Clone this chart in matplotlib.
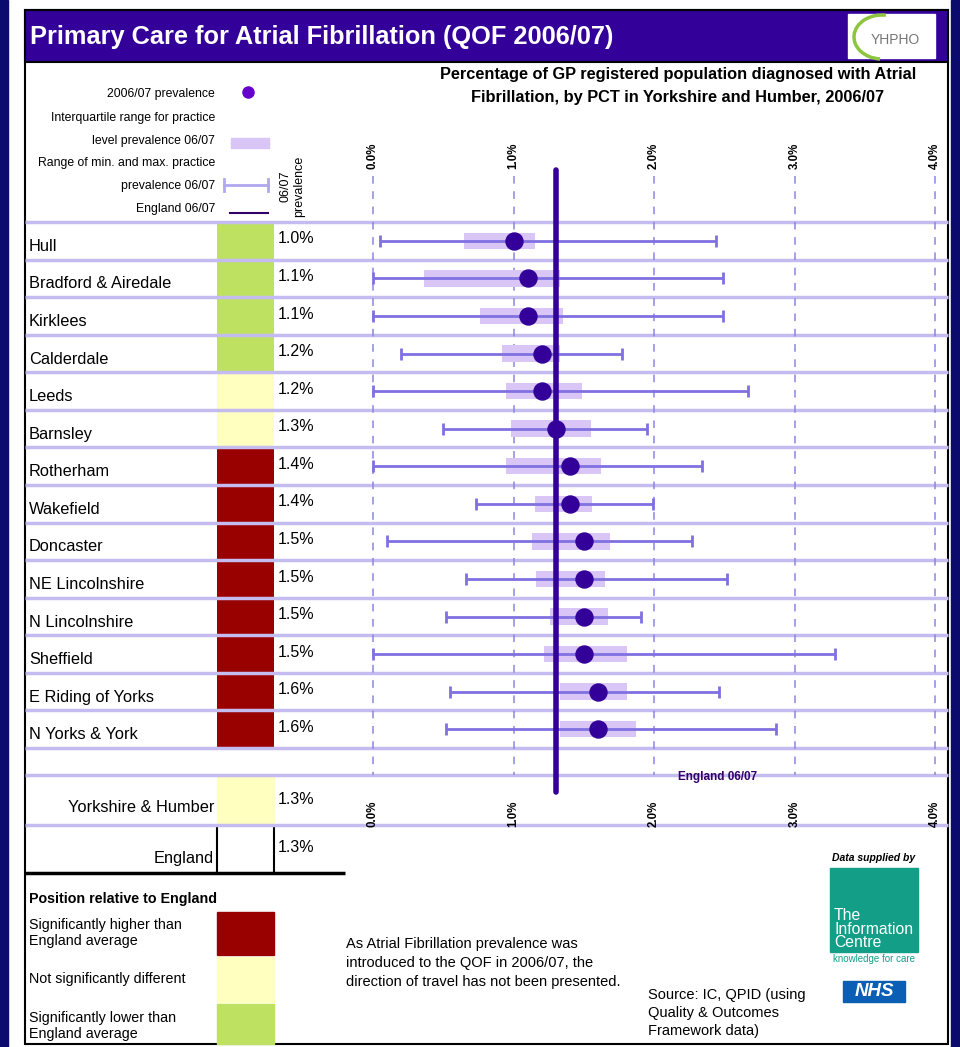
import numpy as np
import matplotlib
matplotlib.use('Agg')
import matplotlib.pyplot as plt
from matplotlib.patches import Rectangle, Arc

plt.rcParams['font.family'] = ['Liberation Sans', 'DejaVu Sans']

# PCT data, 2006/07 AF prevalence (%)
pcts = ['Hull', 'Bradford & Airedale', 'Kirklees', 'Calderdale', 'Leeds', 'Barnsley',
        'Rotherham', 'Wakefield', 'Doncaster', 'NE Lincolnshire', 'N Lincolnshire',
        'Sheffield', 'E Riding of Yorks', 'N Yorks & York']
prevalence = [1.0, 1.1, 1.1, 1.2, 1.2, 1.3, 1.4, 1.4, 1.5, 1.5, 1.5, 1.5, 1.6, 1.6]
iqr_low = [0.65, 0.36, 0.76, 0.92, 0.95, 0.98, 0.95, 1.15, 1.13, 1.16, 1.26, 1.22, 1.33, 1.33]
iqr_high = [1.15, 1.33, 1.35, 1.33, 1.49, 1.55, 1.62, 1.56, 1.69, 1.65, 1.67, 1.81, 1.81, 1.87]
range_min = [0.05, 0.0, 0.0, 0.2, 0.0, 0.5, 0.0, 0.73, 0.1, 0.66, 0.52, 0.0, 0.55, 0.52]
range_max = [2.44, 2.49, 2.49, 1.77, 2.67, 1.95, 2.34, 1.99, 2.27, 2.52, 1.91, 3.29, 2.46, 2.87]
# 'low' = significantly lower, 'same' = not significantly different, 'high' = significantly higher
significance = ['low', 'low', 'low', 'low', 'same', 'same', 'high', 'high', 'high',
                'high', 'high', 'high', 'high', 'high']
england = 1.3
region_name = 'Yorkshire & Humber'
region_value = 1.3
region_sig = 'same'
ticks = [0, 1, 2, 3, 4]
tick_labels = ['0.0%', '1.0%', '2.0%', '3.0%', '4.0%']

sig_colors = {'high': '#990000', 'same': '#ffffc0', 'low': '#bfe162'}
navy = '#0b0b6e'
purple = '#330099'
lav_line = '#c4bcf0'
range_col = '#8070e0'
iqr_col = '#dac6f6'
grid_col = '#8a86e0'

W, H = 960, 1047
fig = plt.figure(figsize=(W / 100, H / 100), dpi=100)

# background in pixel coordinates
bg = fig.add_axes([0, 0, 1, 1], zorder=0)
bg.set_xlim(0, W)
bg.set_ylim(H, 0)
bg.axis('off')
bg.add_patch(Rectangle((0, 0), 8, H, color=navy))
bg.add_patch(Rectangle((951, 0), 9, H, color=navy))
bg.add_patch(Rectangle((25, 10), 923, 1034, facecolor='white', edgecolor='black', lw=1.5))
bg.add_patch(Rectangle((25, 10), 923, 52, facecolor=purple, edgecolor='black', lw=1.5))
bg.text(30, 37, 'Primary Care for Atrial Fibrillation (QOF 2006/07)', color='white',
        fontsize=18.3, fontweight='bold', va='center', ha='left')

# YHPHO logo
bg.add_patch(Rectangle((848, 14), 87, 44, color='white'))
bg.add_patch(Arc((882, 37), 56, 44, theta1=95, theta2=280, color='#8cc63f', lw=2.5))
bg.text(895, 40, 'YHPHO', color='#777777', fontsize=10, ha='center', va='center')

# chart title
bg.text(678, 86, 'Percentage of GP registered population diagnosed with Atrial\n'
        'Fibrillation, by PCT in Yorkshire and Humber, 2006/07',
        fontsize=11.8, fontweight='bold', ha='center', va='center', linespacing=1.6)

# legend top-left
leg_fs = 8.8
bg.text(215, 94, '2006/07 prevalence', fontsize=leg_fs, ha='right', va='center')
bg.plot([248], [92], 'o', color='#6600cc', ms=8)
bg.text(215, 118, 'Interquartile range for practice', fontsize=leg_fs, ha='right', va='center')
bg.text(215, 141, 'level prevalence 06/07', fontsize=leg_fs, ha='right', va='center')
bg.add_patch(Rectangle((231, 138), 38, 10, color=iqr_col))
bg.text(215, 163, 'Range of min. and max. practice', fontsize=leg_fs, ha='right', va='center')
bg.text(215, 186, 'prevalence 06/07', fontsize=leg_fs, ha='right', va='center')
bg.plot([224, 268], [185, 185], color='#b0a8f0', lw=2)
bg.plot([224, 224], [179, 191], color='#b0a8f0', lw=2)
bg.plot([268, 268], [179, 191], color='#b0a8f0', lw=2)
bg.text(215, 209, 'England 06/07', fontsize=leg_fs, ha='right', va='center')
bg.plot([230, 268], [213, 213], color='#330066', lw=1.5)
bg.text(292, 217, '06/07\nprevalence', fontsize=9, rotation=90, ha='center', va='bottom')

# regional / national rows below the PCTs
bg.hlines([775, 825], 25, 948, color=lav_line, lw=2.5, zorder=3)
bg.add_patch(Rectangle((217, 777), 57, 46, color=sig_colors[region_sig], zorder=2))
bg.text(214, 808, region_name, fontsize=11.8, ha='right', va='center')
bg.text(278, 800, f'{region_value:.1f}%', fontsize=11.5, ha='left', va='center')
bg.text(214, 858, 'England', fontsize=11.8, ha='right', va='center')
bg.text(278, 848, f'{england:.1f}%', fontsize=11.5, ha='left', va='center')
bg.vlines([217, 274], 825, 873, color='black', lw=1.5)
bg.hlines(873, 25, 345, color='black', lw=2.5)

# bottom legend
bg.text(29, 899, 'Position relative to England', fontsize=10.3, fontweight='bold', va='center')
bg.add_patch(Rectangle((217, 912), 57, 43, color=sig_colors['high']))
bg.add_patch(Rectangle((217, 957), 57, 45, color=sig_colors['same']))
bg.add_patch(Rectangle((217, 1004), 57, 40, color=sig_colors['low']))
bg.text(29, 933, 'Significantly higher than\nEngland average', fontsize=10.3, va='center', linespacing=1.2)
bg.text(29, 979, 'Not significantly different', fontsize=10.3, va='center')
bg.text(29, 1026, 'Significantly lower than\nEngland average', fontsize=10.3, va='center', linespacing=1.2)

bg.text(346, 963, 'As Atrial Fibrillation prevalence was\nintroduced to the QOF in 2006/07, the\n'
        'direction of travel has not been presented.', fontsize=10.5, va='center', linespacing=1.45)
bg.text(648, 1013, 'Source: IC, QPID (using\nQuality & Outcomes\nFramework data)',
        fontsize=10.5, va='center', linespacing=1.4)

# data supplier logos
bg.text(874, 858, 'Data supplied by', fontsize=7.5, fontstyle='italic', fontweight='bold',
        ha='center', va='center')
bg.add_patch(Rectangle((830, 868), 88, 84, color='#139e87'))
bg.text(834, 929, 'The\nInformation\nCentre', color='white', fontsize=11.3, va='center',
        linespacing=0.9)
bg.text(874, 959, 'knowledge for care', color='#139e87', fontsize=7, ha='center', va='center')
bg.add_patch(Rectangle((843, 981), 62, 21, color='#0a5fb4'))
bg.text(874, 992, 'NHS', color='white', fontsize=13.5, fontweight='bold', fontstyle='italic',
        ha='center', va='center')

# row geometry
top_px, bot_px = 222, 748
row_h = (bot_px - top_px) / len(pcts)
rows = np.arange(len(pcts))
ax_bottom = 1 - bot_px / H
ax_height = (bot_px - top_px) / H

# left table
tab = fig.add_axes([25 / W, ax_bottom, (373 - 25) / W, ax_height], zorder=1)
tab.set_facecolor('none')
tab.set_xlim(25, 373)
tab.set_ylim(len(pcts) - 0.5, -0.5)
tab.axis('off')
tab.barh(rows, 57, left=217, height=1.0, color=[sig_colors[s] for s in significance])
for i, (name, val) in enumerate(zip(pcts, prevalence)):
    tab.text(29, i + 0.15, name, fontsize=11.8, va='center', ha='left')
    tab.text(278, i - 0.05, f'{val:.1f}%', fontsize=11.5, va='center', ha='left')
tab.hlines(np.arange(len(pcts) + 1) - 0.5, 25, 948, color=lav_line, lw=2.5, clip_on=False, zorder=3)

# chart
x_per_pct = 140.5
ax = fig.add_axes([373 / W, ax_bottom, (948 - 373) / W, ax_height], zorder=2)
ax.set_facecolor('none')
ax.set_xlim(0, (948 - 373) / x_per_pct)
ax.set_ylim(len(pcts) - 0.5, -0.5)
for s in ax.spines.values():
    s.set_visible(False)
ax.set_yticks([])
ax.set_xticks(ticks, tick_labels)
ax.tick_params(axis='x', top=True, labeltop=True, bottom=True, labelbottom=True,
               length=0, labelrotation=90, pad=38, labelsize=8.3)
for t in ax.xaxis.get_major_ticks():
    t.label1.set_fontweight('bold')
    t.label2.set_fontweight('bold')

ax.vlines(ticks, -0.5 - (top_px - 176) / row_h, len(pcts) - 0.5 + (775 - bot_px) / row_h,
          color=grid_col, lw=1.1, linestyles=(0, (5, 5)), clip_on=False, zorder=1)

prev = np.array(prevalence)
ax.barh(rows, np.array(iqr_high) - np.array(iqr_low), left=iqr_low, height=0.44,
        color=iqr_col, zorder=2)
ax.errorbar(prev, rows, xerr=[prev - np.array(range_min), np.array(range_max) - prev],
            fmt='none', ecolor=range_col, elinewidth=2, capsize=4.5, capthick=2,
            zorder=3, clip_on=False)
ax.plot([england, england], [-0.5 - (top_px - 170) / row_h, len(pcts) - 0.5 + (792 - bot_px) / row_h],
        color=purple, lw=4, solid_capstyle='round', clip_on=False, zorder=4)
ax.scatter(prev, rows, s=150, color=purple, zorder=5)
ax.text(2.45, len(pcts) - 0.5 + (777 - bot_px) / row_h, 'England 06/07', fontsize=8.5,
        fontweight='bold', color='#330066', ha='center', va='center', clip_on=False)

fig.savefig('out.png', dpi=100)
